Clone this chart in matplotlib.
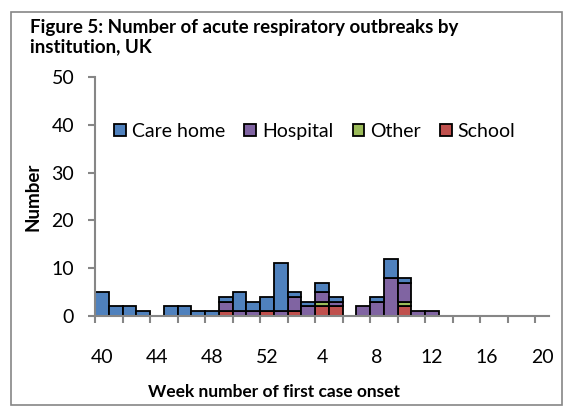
import matplotlib.pyplot as plt
from matplotlib.patches import Rectangle
import numpy as np

plt.rcParams['font.family'] = ['Lato', 'DejaVu Sans']

# weeks from 40 (autumn) to 20 (next year)
weeks = list(range(40, 53)) + list(range(1, 21))

# outbreaks per week
care_home = [5, 2, 2, 1, 0, 2, 2, 1, 1, 1, 4, 2, 3,
             10, 1, 1, 2, 1, 0, 0, 1, 4, 1, 0, 0, 0, 0, 0, 0, 0, 0, 0, 0]
hospital = [0, 0, 0, 0, 0, 0, 0, 0, 0, 2, 1, 1, 0,
            1, 3, 2, 2, 1, 0, 2, 3, 8, 4, 1, 1, 0, 0, 0, 0, 0, 0, 0, 0]
other = [0, 0, 0, 0, 0, 0, 0, 0, 0, 0, 0, 0, 0,
         0, 0, 0, 1, 0, 0, 0, 0, 0, 1, 0, 0, 0, 0, 0, 0, 0, 0, 0, 0]
school = [0, 0, 0, 0, 0, 0, 0, 0, 0, 1, 0, 0, 1,
          0, 1, 0, 2, 2, 0, 0, 0, 0, 2, 0, 0, 0, 0, 0, 0, 0, 0, 0, 0]

colors = {"Care home": "#4F81BD", "Hospital": "#8064A2",
          "Other": "#9BBB59", "School": "#C0504D"}

fig = plt.figure(figsize=(5.71, 4.12), dpi=100)
ax = fig.add_axes([0.1664, 0.233, 0.795, 0.58])

x = np.arange(len(weeks))
school_a = np.array(school)
other_a = np.array(other)
hosp_a = np.array(hospital)
care_a = np.array(care_home)

kw = dict(width=1.0, edgecolor="black", linewidth=1.3)
bars = {}
bars["School"] = ax.bar(x, school_a, color=colors["School"], **kw)
bars["Other"] = ax.bar(x, other_a, bottom=school_a, color=colors["Other"], **kw)
bars["Hospital"] = ax.bar(x, hosp_a, bottom=school_a + other_a,
                          color=colors["Hospital"], **kw)
bars["Care home"] = ax.bar(x, care_a, bottom=school_a + other_a + hosp_a,
                           color=colors["Care home"], **kw)

# hide zero-height bars so their edges don't draw on the axis
for name, bc in bars.items():
    for rect in bc:
        if rect.get_height() == 0:
            rect.set_visible(False)

ax.set_xlim(-0.5, len(weeks) - 0.5)
ax.set_ylim(0, 50)
ax.set_yticks(range(0, 51, 10))

# tick marks on category boundaries, labels at every 4th week centre
ax.set_xticks(np.arange(-0.5, len(weeks) - 0.5, 2))
ax.set_xticklabels([])
ax.set_xticks(x[::4], minor=True)
ax.set_xticklabels([str(weeks[i]) for i in x[::4]], minor=True)
ax.tick_params(axis="x", which="minor", length=0, pad=24, labelsize=14)
ax.tick_params(axis="x", which="major", length=5, width=1.5, color="#868686")
ax.tick_params(axis="y", length=5, width=1.5, color="#868686", labelsize=14, pad=10)

for s in ["top", "right"]:
    ax.spines[s].set_visible(False)
for s in ["left", "bottom"]:
    ax.spines[s].set_color("#868686")
    ax.spines[s].set_linewidth(1.5)

ax.set_ylabel("Number", fontsize=13.5, fontweight="bold")
ax.yaxis.set_label_coords(-0.118, 0.5)
ax.set_xlabel("Week number of first case onset", fontsize=12.5, fontweight="bold")
ax.xaxis.set_label_coords(0.394, -0.285)

order = ["Care home", "Hospital", "Other", "School"]
handles = [Rectangle((0, 0), 1, 1, facecolor=colors[n], edgecolor="black",
                     linewidth=1.3) for n in order]
leg = ax.legend(handles, order, loc="center left", bbox_to_anchor=(0.025, 0.774),
                ncol=4, frameon=False, fontsize=14, handlelength=0.6,
                handleheight=0.6, handletextpad=0.3, columnspacing=1.0,
                borderaxespad=0)

fig.text(0.052, 0.955, "Figure 5: Number of acute respiratory outbreaks by\ninstitution, UK",
         fontsize=13.5, fontweight="bold", va="top", ha="left", linespacing=1.2)

fig.patches.append(Rectangle((0.019, 0.018), 0.966, 0.952, transform=fig.transFigure,
                             fill=False, edgecolor="#868686", linewidth=1.2))

fig.savefig("out.png", dpi=100)
